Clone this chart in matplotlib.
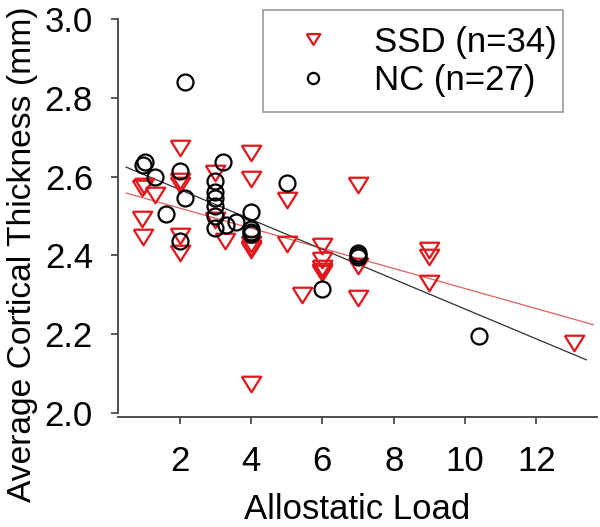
import numpy as np
import matplotlib
matplotlib.use('Agg')
import matplotlib.pyplot as plt

# SSD group (red triangles)
ssd_x = [2.0, 0.95, 1.30, 0.95, 0.97, 2.0, 2.0, 2.0, 2.0, 3.0, 3.28, 4.0, 4.0, 4.0, 4.0, 4.0,
         5.0, 5.0, 5.42, 6.0, 6.0, 6.0, 6.0, 7.0, 7.0, 7.0, 9.0, 9.0, 9.0, 13.05,
         4.0, 6.0, 3.0, 1.0]
ssd_y = [2.672, 2.57, 2.553, 2.492, 2.448, 2.59, 2.58, 2.45, 2.405, 2.61, 2.437, 2.66, 2.595, 2.43, 2.42, 2.075,
         2.54, 2.43, 2.30, 2.425, 2.388, 2.367, 2.355, 2.58, 2.372, 2.292, 2.414, 2.395, 2.33, 2.178,
         2.415, 2.36, 2.49, 2.575]

# NC group (black circles)
nc_x = [2.15, 1.02, 0.98, 1.30, 2.0, 2.14, 1.61, 2.0, 3.22, 3.0, 3.0, 3.0, 3.0, 3.0,
        3.31, 3.59, 4.0, 4.0, 4.0, 5.0, 7.0, 7.0, 6.0, 10.4, 3.0, 7.0, 4.0]
nc_y = [2.84, 2.638, 2.63, 2.598, 2.615, 2.545, 2.505, 2.437, 2.636, 2.588, 2.545, 2.525, 2.50, 2.47,
        2.476, 2.486, 2.51, 2.468, 2.455, 2.584, 2.405, 2.395, 2.315, 2.195, 2.56, 2.40, 2.46]

# regression lines: (intercept, slope)
ssd_fit = (2.571, -0.0255)
nc_fit = (2.643, -0.0379)

plt.rcParams['font.family'] = ['Liberation Sans', 'DejaVu Sans']
fs = 25

fig = plt.figure(figsize=(6, 5.27), dpi=100)
ax = fig.add_axes([118/600, 1-417/527, (597-118)/600, (417-19)/527])

red = '#e0161b'
tri = [(-1, 0.8), (1, 0.8), (0, -0.8), (-1, 0.8)]

xs = np.array([0.5, 13.6])
ax.plot(xs, ssd_fit[0] + ssd_fit[1]*xs, color='#e06060', lw=0.9, zorder=1)
xs2 = np.array([0.5, 13.4])
ax.plot(xs2, nc_fit[0] + nc_fit[1]*xs2, color='#303030', lw=0.9, zorder=1)

ax.plot(ssd_x, ssd_y, linestyle='none', marker=tri, ms=14, mfc='none', mec=red, mew=1.6,
        label='SSD (n=34)', zorder=2)
ax.plot(nc_x, nc_y, linestyle='none', marker='o', ms=11.5, mfc='none', mec='black', mew=1.6,
        label='NC (n=27)', zorder=3)

ax.set_xlim(0.27, 13.7)
ax.set_ylim(1.99, 3.0)
ax.set_xticks([2, 4, 6, 8, 10, 12])
ax.set_yticks([2.0, 2.2, 2.4, 2.6, 2.8, 3.0])
ax.set_yticklabels(['2.0', '2.2', '2.4', '2.6', '2.8', '3.0'])
ax.spines['top'].set_visible(False)
ax.spines['right'].set_visible(False)
ax.spines['left'].set_bounds(2.0, 3.0)
for s in ['left', 'bottom']:
    ax.spines[s].set_color('#404040')
    ax.spines[s].set_linewidth(1.3)
ax.tick_params(direction='out', length=5, width=1.2, color='#404040', labelsize=fs)
ax.tick_params(axis='y', pad=13)
ax.tick_params(axis='x', pad=15)
ax.set_xlabel('Allostatic Load', fontsize=fs, labelpad=11)
ax.set_ylabel('Average Cortical Thickness (mm)', fontsize=24.2)
ax.yaxis.set_label_coords(-0.166, 0.41)

leg = fig.legend(loc='upper left', bbox_to_anchor=(263/600, 1-10/527, 300/600, 0),
                 mode='expand', fontsize=fs, frameon=True, fancybox=False, borderaxespad=0,
                 markerscale=0.7, handletextpad=0.75, borderpad=0.45, labelspacing=0.15,
                 handlelength=2.0)
leg.get_frame().set_edgecolor('#808080')
leg.get_frame().set_linewidth(1.2)

fig.savefig('out.png', dpi=100)
